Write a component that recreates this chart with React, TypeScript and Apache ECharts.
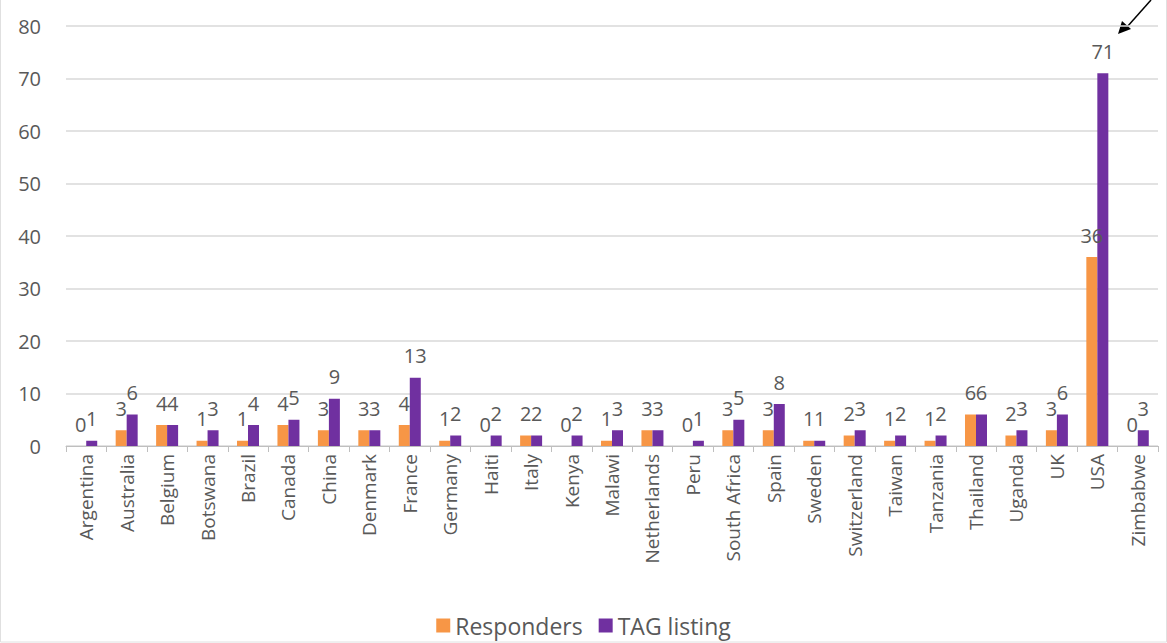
import React, { useEffect, useRef } from "react";
import * as echarts from "echarts";

const countries = [
  "Argentina", "Australia", "Belgium", "Botswana", "Brazil", "Canada", "China", "Denmark", "France",
  "Germany", "Haiti", "Italy", "Kenya", "Malawi", "Netherlands", "Peru", "South Africa", "Spain",
  "Sweden", "Switzerland", "Taiwan", "Tanzania", "Thailand", "Uganda", "UK", "USA", "Zimbabwe",
];
const responders = [0, 3, 4, 1, 1, 4, 3, 3, 4, 1, 0, 2, 0, 1, 3, 0, 3, 3, 1, 2, 1, 1, 6, 2, 3, 36, 0];
const tagListing = [1, 6, 4, 3, 4, 5, 9, 3, 13, 2, 2, 2, 2, 3, 3, 1, 5, 8, 1, 3, 2, 2, 6, 3, 6, 71, 3];
const seriesNames = ["Responders", "TAG listing"];

const FONT = "'Open Sans', 'Noto Sans', sans-serif";
const TXT = "#595959";

export default function App() {
  const ref = useRef<HTMLDivElement>(null);
  useEffect(() => {
    if (!ref.current) return;
    const chart = echarts.init(ref.current, null, { renderer: "svg" });
    const label = {
      show: true,
      position: "top" as const,
      distance: 12,
      color: TXT,
      fontSize: 20,
      fontFamily: FONT,
    };
    chart.setOption({
      animation: false,
      backgroundColor: "#ffffff",
      textStyle: { fontFamily: FONT },
      grid: { left: 66, right: 9, top: 26, bottom: 197, containLabel: false },
      legend: {
        data: seriesNames,
        bottom: 1,
        left: "center",
        itemWidth: 14,
        itemHeight: 14,
        itemGap: 16,
        icon: "rect",
        textStyle: { color: TXT, fontSize: 23, fontFamily: FONT },
      },
      xAxis: {
        type: "category",
        data: countries,
        axisLine: { show: true, lineStyle: { color: "#bfbfbf" } },
        axisTick: { show: true, length: 6, lineStyle: { color: "#bfbfbf" } },
        axisLabel: { rotate: 90, color: TXT, fontSize: 19, fontFamily: FONT, interval: 0, margin: 8 },
      },
      yAxis: {
        type: "value",
        min: 0,
        max: 80,
        interval: 10,
        axisLine: { show: false },
        axisTick: { show: false },
        splitLine: { lineStyle: { color: "#d9d9d9", width: 1.5 } },
        axisLabel: { color: TXT, fontSize: 20, fontFamily: FONT, margin: 25 },
      },
      series: [
        {
          name: seriesNames[0],
          type: "bar",
          data: responders,
          barWidth: 11,
          barGap: "0%",
          itemStyle: { color: "#F79646" },
          label,
        },
        {
          name: seriesNames[1],
          type: "bar",
          data: tagListing,
          barWidth: 11,
          barGap: "0%",
          itemStyle: { color: "#7030A0" },
          label,
        },
      ],
      graphic: [
        {
          type: "rect",
          shape: { x: 0.5, y: -2, width: 1166, height: 644 },
          style: { fill: "none", stroke: "#e0e0e0", lineWidth: 1 },
          silent: true,
        },
        {
          type: "line",
          shape: { x1: 1151, y1: 0, x2: 1127, y2: 27 },
          style: { stroke: "#000", lineWidth: 1.5 },
        },
        {
          type: "polygon",
          shape: { points: [[1118, 34], [1122, 21], [1131, 29]] },
          style: { fill: "#000" },
        },
      ],
    });
    return () => chart.dispose();
  }, []);
  return (
    <div
      ref={ref}
      style={{ position: "fixed", left: 0, top: 0, width: 1167, height: 643 }}
    />
  );
}
